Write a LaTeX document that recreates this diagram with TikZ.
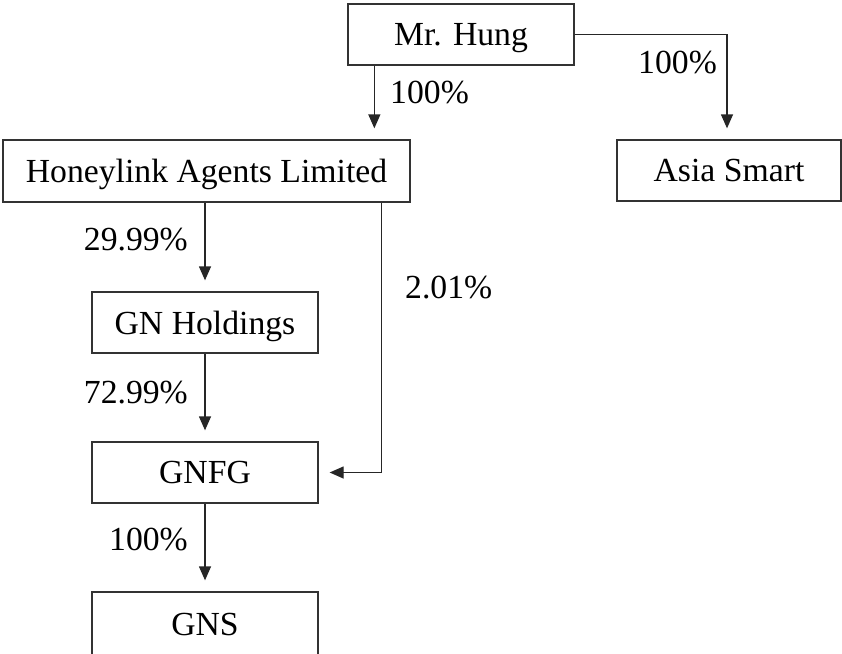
\documentclass[tikz,border=0pt]{standalone}
\usepackage{fontspec}
\setmainfont{Liberation Serif}
\usetikzlibrary{calc,arrows.meta}
\tikzset{
	entity/.style={draw=black!80, line width=1.3pt, minimum width=226pt, minimum height=61pt, inner sep=0pt, text depth=0pt, font=\fontsize{33.7}{40}\selectfont},
	share/.style={font=\fontsize{33.7}{40}\selectfont, inner sep=0pt},
	owns/.style={draw=black!85, line width=1.3pt, -{Triangle[length=14pt,width=12pt]}, shorten >=11pt}
}

\begin{document}
\begin{tikzpicture}[x=1pt, y=-1pt]
		%%%%% START %%%%%
		\useasboundingbox (0, 0) rectangle (842, 653);
		
		\node[entity] (hung) at (461, 34.5) {Mr. Hung};
		\node[entity, minimum width=407pt, minimum height=62pt] (honey) at (206.5, 171) {Honeylink Agents Limited};
		\node[entity, minimum width=224pt] (asia) at (729, 170.5) {Asia Smart};
		\node[entity] (gnh) at (205, 322.5) {GN Holdings};
		\node[entity] (gnfg) at (205, 472.5) {GNFG};
		\node[entity, minimum height=64pt] (gns) at (205, 624) {GNS};
		
		\coordinate (hungdown) at ($(hung.south west)+(27, 0)$);
		\coordinate (honeydown) at ($(honey.south east)+(-29, 0)$);
		
		\draw[owns] (hungdown) -- (hungdown |- honey.north);
		\draw[owns] (hung.east) -| ($(asia.north)+(-2, 0)$);
		\draw[owns] (gnh.north |- honey.south) -- (gnh.north);
		\draw[owns] (honeydown) |- (gnfg.east);
		\draw[owns] (gnh.south) -- (gnfg.north);
		\draw[owns] (gnfg.south) -- (gns.north);
		
		\node[share, anchor=west] (p1) at (390, 93) {100\%};
		\node[share, anchor=west] (p2) at (638, 63) {100\%};
		\node[share, anchor=east] (p3) at (188, 240) {29.99\%};
		\node[share, anchor=west] (p4) at (405, 288) {2.01\%};
		\node[share, anchor=east] (p5) at (188, 393) {72.99\%};
		\node[share, anchor=east] (p6) at (188, 540) {100\%};
		%%%%% END %%%%%
\end{tikzpicture}
\end{document}
